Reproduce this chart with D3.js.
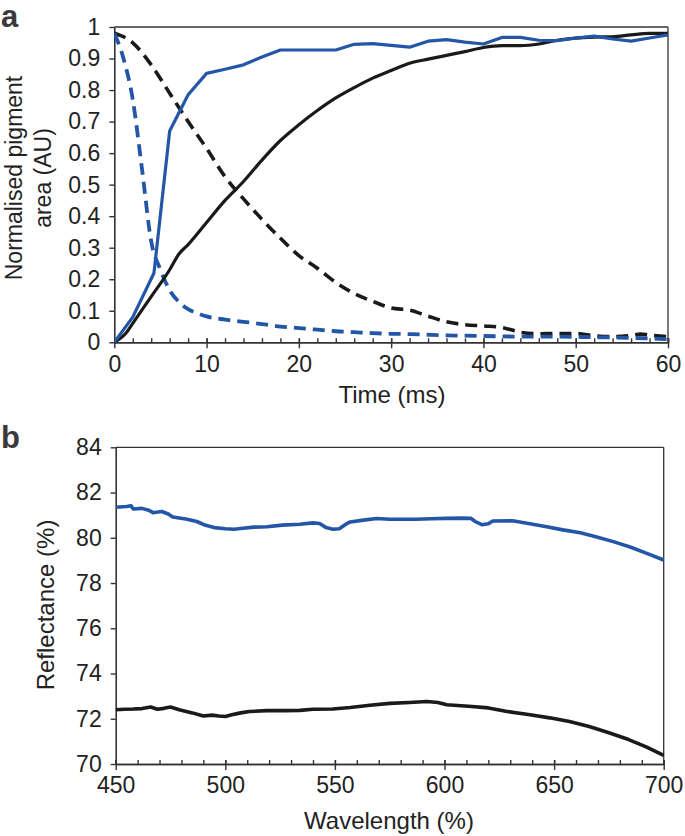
<!DOCTYPE html>
<html>
<head>
<meta charset="utf-8">
<script src="https://cdn.jsdelivr.net/npm/d3@7"></script>
<style>
  html, body { margin: 0; padding: 0; background: #fff; }
  svg { display: block; font-family: "Liberation Sans", Arial, Helvetica, sans-serif; }
</style>
</head>
<body>
<svg id="chart" width="685" height="836"></svg>
<script>
// ---------- Panel a data ----------
const blueSolidT = [0, 2, 4.3, 6, 8, 10, 12, 14, 16, 18, 20, 22, 24, 26, 28, 30, 32, 34, 36, 38, 40, 42, 44, 46, 48, 50, 52, 54, 56, 58, 60];
const blueSolidV = [0, 0.08, 0.22, 0.67, 0.785, 0.853, 0.866, 0.88, 0.905, 0.927, 0.927, 0.927, 0.927, 0.945, 0.947, 0.942, 0.936, 0.955, 0.96, 0.952, 0.946, 0.967, 0.967, 0.958, 0.957, 0.965, 0.971, 0.962, 0.955, 0.965, 0.975];

const blackSolidT = [0, 1.3, 2, 4, 6, 7, 8, 10, 12, 14, 16, 18, 20, 22, 24, 26, 28, 30, 32, 34, 36, 38, 40, 42, 44, 46, 48, 50, 52, 54, 56, 58, 60];
const blackSolidV = [0, 0.03, 0.06, 0.145, 0.23, 0.28, 0.31, 0.38, 0.45, 0.51, 0.578, 0.64, 0.69, 0.735, 0.775, 0.808, 0.838, 0.862, 0.885, 0.898, 0.91, 0.922, 0.935, 0.941, 0.941, 0.946, 0.958, 0.965, 0.968, 0.969, 0.975, 0.98, 0.98];

const blackDashT = [0, 2, 4, 6, 8, 10, 12, 14, 16, 18, 20, 22, 24, 26, 28, 30, 32, 34, 36, 38, 40, 42, 44, 46, 48, 50, 52, 54, 56, 57, 58, 60];
const blackDashV = [0.98, 0.95, 0.88, 0.79, 0.70, 0.615, 0.525, 0.455, 0.39, 0.33, 0.275, 0.235, 0.19, 0.155, 0.13, 0.109, 0.102, 0.083, 0.065, 0.056, 0.052, 0.047, 0.032, 0.027, 0.028, 0.028, 0.021, 0.018, 0.022, 0.026, 0.023, 0.018];

const blueDashT = [0, 1, 2, 3, 4, 5, 6, 7, 8, 9, 10, 12, 14, 16, 18, 20, 22, 24, 26, 28, 30, 32, 34, 36, 38, 40, 44, 48, 52, 56, 60];
const blueDashV = [0.98, 0.9, 0.77, 0.55, 0.32, 0.23, 0.165, 0.128, 0.105, 0.092, 0.082, 0.072, 0.065, 0.058, 0.05, 0.045, 0.04, 0.035, 0.032, 0.029, 0.027, 0.026, 0.024, 0.022, 0.021, 0.02, 0.018, 0.018, 0.016, 0.014, 0.01];

const aXTicks = [0, 10, 20, 30, 40, 50, 60];
const aXMinor = d3.range(0, 61, 2);
const aYTicks = [0, 0.1, 0.2, 0.3, 0.4, 0.5, 0.6, 0.7, 0.8, 0.9, 1];

// ---------- Panel b data ----------
const wlBlue = [450, 455, 457, 458, 462, 465, 467, 471, 474, 476, 482, 487, 491, 495, 500, 504, 508, 513, 519, 526, 534, 540, 543, 546, 549, 552, 555, 557, 563, 569, 575, 580, 587, 594, 601, 608, 612, 614, 617, 620, 622, 631, 639, 646, 654, 662, 669, 677, 685, 692, 700];
const reflBlue = [81.35, 81.38, 81.42, 81.27, 81.3, 81.22, 81.11, 81.16, 81.05, 80.92, 80.83, 80.72, 80.55, 80.45, 80.4, 80.38, 80.42, 80.47, 80.49, 80.56, 80.6, 80.66, 80.63, 80.45, 80.38, 80.4, 80.6, 80.7, 80.78, 80.85, 80.82, 80.82, 80.82, 80.84, 80.86, 80.87, 80.86, 80.72, 80.58, 80.62, 80.74, 80.75, 80.62, 80.5, 80.35, 80.22, 80.05, 79.83, 79.58, 79.32, 79.02];

const wlBlack = [450, 454, 458, 462, 466, 469, 472, 475, 479, 485, 490, 494, 497, 500, 503, 507, 511, 519, 527, 534, 540, 549, 557, 566, 575, 584, 592, 597, 601, 611, 620, 628, 639, 648, 657, 666, 675, 684, 692, 700];
const reflBlack = [72.4, 72.42, 72.43, 72.45, 72.52, 72.42, 72.46, 72.52, 72.4, 72.26, 72.12, 72.16, 72.12, 72.1, 72.18, 72.26, 72.32, 72.36, 72.36, 72.37, 72.42, 72.43, 72.5, 72.6, 72.68, 72.72, 72.76, 72.72, 72.62, 72.55, 72.48, 72.33, 72.18, 72.04, 71.88, 71.66, 71.38, 71.08, 70.76, 70.38];

const bXTicks = [450, 500, 550, 600, 650, 700];
const bXMinor = d3.range(450, 701, 10);
const bYTicks = [70, 72, 74, 76, 78, 80, 82, 84];

// ---------- drawing ----------
const BLUE = "#2456a8";
const BLACK = "#1a1a1a";
const TEXT = "#222";
const AXIS = "#333";
const svg = d3.select("#chart");
const tfont = "'Liberation Sans', Arial, sans-serif";

function styleAxis(g) {
  g.selectAll(".domain").attr("stroke", AXIS).attr("stroke-width", 1.6);
  g.selectAll(".tick line").attr("stroke", AXIS).attr("stroke-width", 1.4);
  g.selectAll(".tick text").attr("fill", TEXT).style("font-size", "23px")
    .style("font-family", tfont);
}

function panel(opts) {
  const { x, y } = opts;
  const [x0, x1] = x.range();
  const [y0, y1] = y.range(); // y0 bottom, y1 top
  const g = svg.append("g");

  // frame top and right
  g.append("line").attr("x1", x0).attr("x2", x1).attr("y1", y1).attr("y2", y1)
    .attr("stroke", AXIS).attr("stroke-width", 1.3);
  g.append("line").attr("x1", x1).attr("x2", x1).attr("y1", y1).attr("y2", y0)
    .attr("stroke", AXIS).attr("stroke-width", 1.3);

  // minor inward ticks on x
  const gm = g.append("g").attr("transform", `translate(0,${y0})`)
    .call(d3.axisBottom(x).tickValues(opts.xMinor).tickSize(-4).tickFormat(""));
  styleAxis(gm);
  // major ticks crossing the axis, with labels
  const gx = g.append("g").attr("transform", `translate(0,${y0})`)
    .call(d3.axisBottom(x).tickValues(opts.xTicks).tickSize(6).tickSizeOuter(0).tickPadding(7).tickFormat(opts.xFmt));
  styleAxis(gx);
  gx.selectAll(".tick line").attr("y1", -4);

  const gy = g.append("g").attr("transform", `translate(${x0},0)`)
    .call(d3.axisLeft(y).tickValues(opts.yTicks).tickSize(5).tickSizeOuter(0).tickPadding(9).tickFormat(opts.yFmt));
  styleAxis(gy);

  const clip = "clip" + opts.id;
  g.append("clipPath").attr("id", clip).append("rect")
    .attr("x", x0).attr("y", y1 - 4).attr("width", x1 - x0 + 3).attr("height", y0 - y1 + 6);

  opts.series.forEach(s => {
    const pts = s.xs.map((d, i) => [d, s.ys[i]]);
    const line = d3.line().x(d => x(d[0])).y(d => y(d[1])).curve(s.curve || d3.curveLinear);
    g.append("path").datum(pts)
      .attr("clip-path", `url(#${clip})`)
      .attr("d", line)
      .attr("fill", "none")
      .attr("stroke", s.color)
      .attr("stroke-width", s.width)
      .attr("stroke-dasharray", s.dash || null)
      .attr("stroke-linejoin", "round");
  });
  return g;
}

// Panel a
const xa = d3.scaleLinear().domain([0, 60]).range([114.3, 668]);
const ya = d3.scaleLinear().domain([0, 1]).range([342.3, 27]);
panel({
  id: "a", x: xa, y: ya,
  xTicks: aXTicks, xMinor: aXMinor, yTicks: aYTicks,
  xFmt: d3.format("d"), yFmt: d => d === 0 || d === 1 ? String(d) : d3.format(".1f")(d),
  series: [
    { xs: blackDashT, ys: blackDashV, color: BLACK, width: 3.6, dash: "12,7", curve: d3.curveMonotoneX },
    { xs: blueDashT, ys: blueDashV, color: BLUE, width: 3.8, dash: "12,7", curve: d3.curveMonotoneX },
    { xs: blackSolidT, ys: blackSolidV, color: BLACK, width: 3.2, curve: d3.curveMonotoneX },
    { xs: blueSolidT, ys: blueSolidV, color: BLUE, width: 3.2 }
  ]
});

// Panel b
const xb = d3.scaleLinear().domain([450, 700]).range([115.7, 663.7]);
const yb = d3.scaleLinear().domain([70, 84]).range([764, 447.3]);
panel({
  id: "b", x: xb, y: yb,
  xTicks: bXTicks, xMinor: bXMinor, yTicks: bYTicks,
  xFmt: d3.format("d"), yFmt: d3.format("d"),
  series: [
    { xs: wlBlue, ys: reflBlue, color: BLUE, width: 3.6 },
    { xs: wlBlack, ys: reflBlack, color: BLACK, width: 3.6 }
  ]
});

// Titles
svg.append("text").attr("x", 392).attr("y", 403).attr("text-anchor", "middle")
  .attr("fill", TEXT).style("font-size", "24px").style("font-family", tfont).text("Time (ms)");
svg.append("text").attr("x", 389).attr("y", 829).attr("text-anchor", "middle")
  .attr("fill", TEXT).style("font-size", "24px").style("font-family", tfont).text("Wavelength (%)");

svg.append("text").attr("transform", "translate(22,178) rotate(-90)").attr("text-anchor", "middle")
  .attr("fill", TEXT).style("font-size", "23px").style("font-family", tfont).text("Normalised pigment");
svg.append("text").attr("transform", "translate(51,178) rotate(-90)").attr("text-anchor", "middle")
  .attr("fill", TEXT).style("font-size", "23px").style("font-family", tfont).text("area (AU)");
svg.append("text").attr("transform", "translate(54,605) rotate(-90)").attr("text-anchor", "middle")
  .attr("fill", TEXT).style("font-size", "24px").style("font-family", tfont).text("Reflectance (%)");

// Panel letters
svg.append("text").attr("x", 1).attr("y", 27).attr("fill", "#3a3a3a")
  .style("font-size", "31px").style("font-weight", "bold").style("font-family", tfont).text("a");
svg.append("text").attr("x", 1).attr("y", 448).attr("fill", "#3a3a3a")
  .style("font-size", "31px").style("font-weight", "bold").style("font-family", tfont).text("b");
</script>
</body>
</html>
